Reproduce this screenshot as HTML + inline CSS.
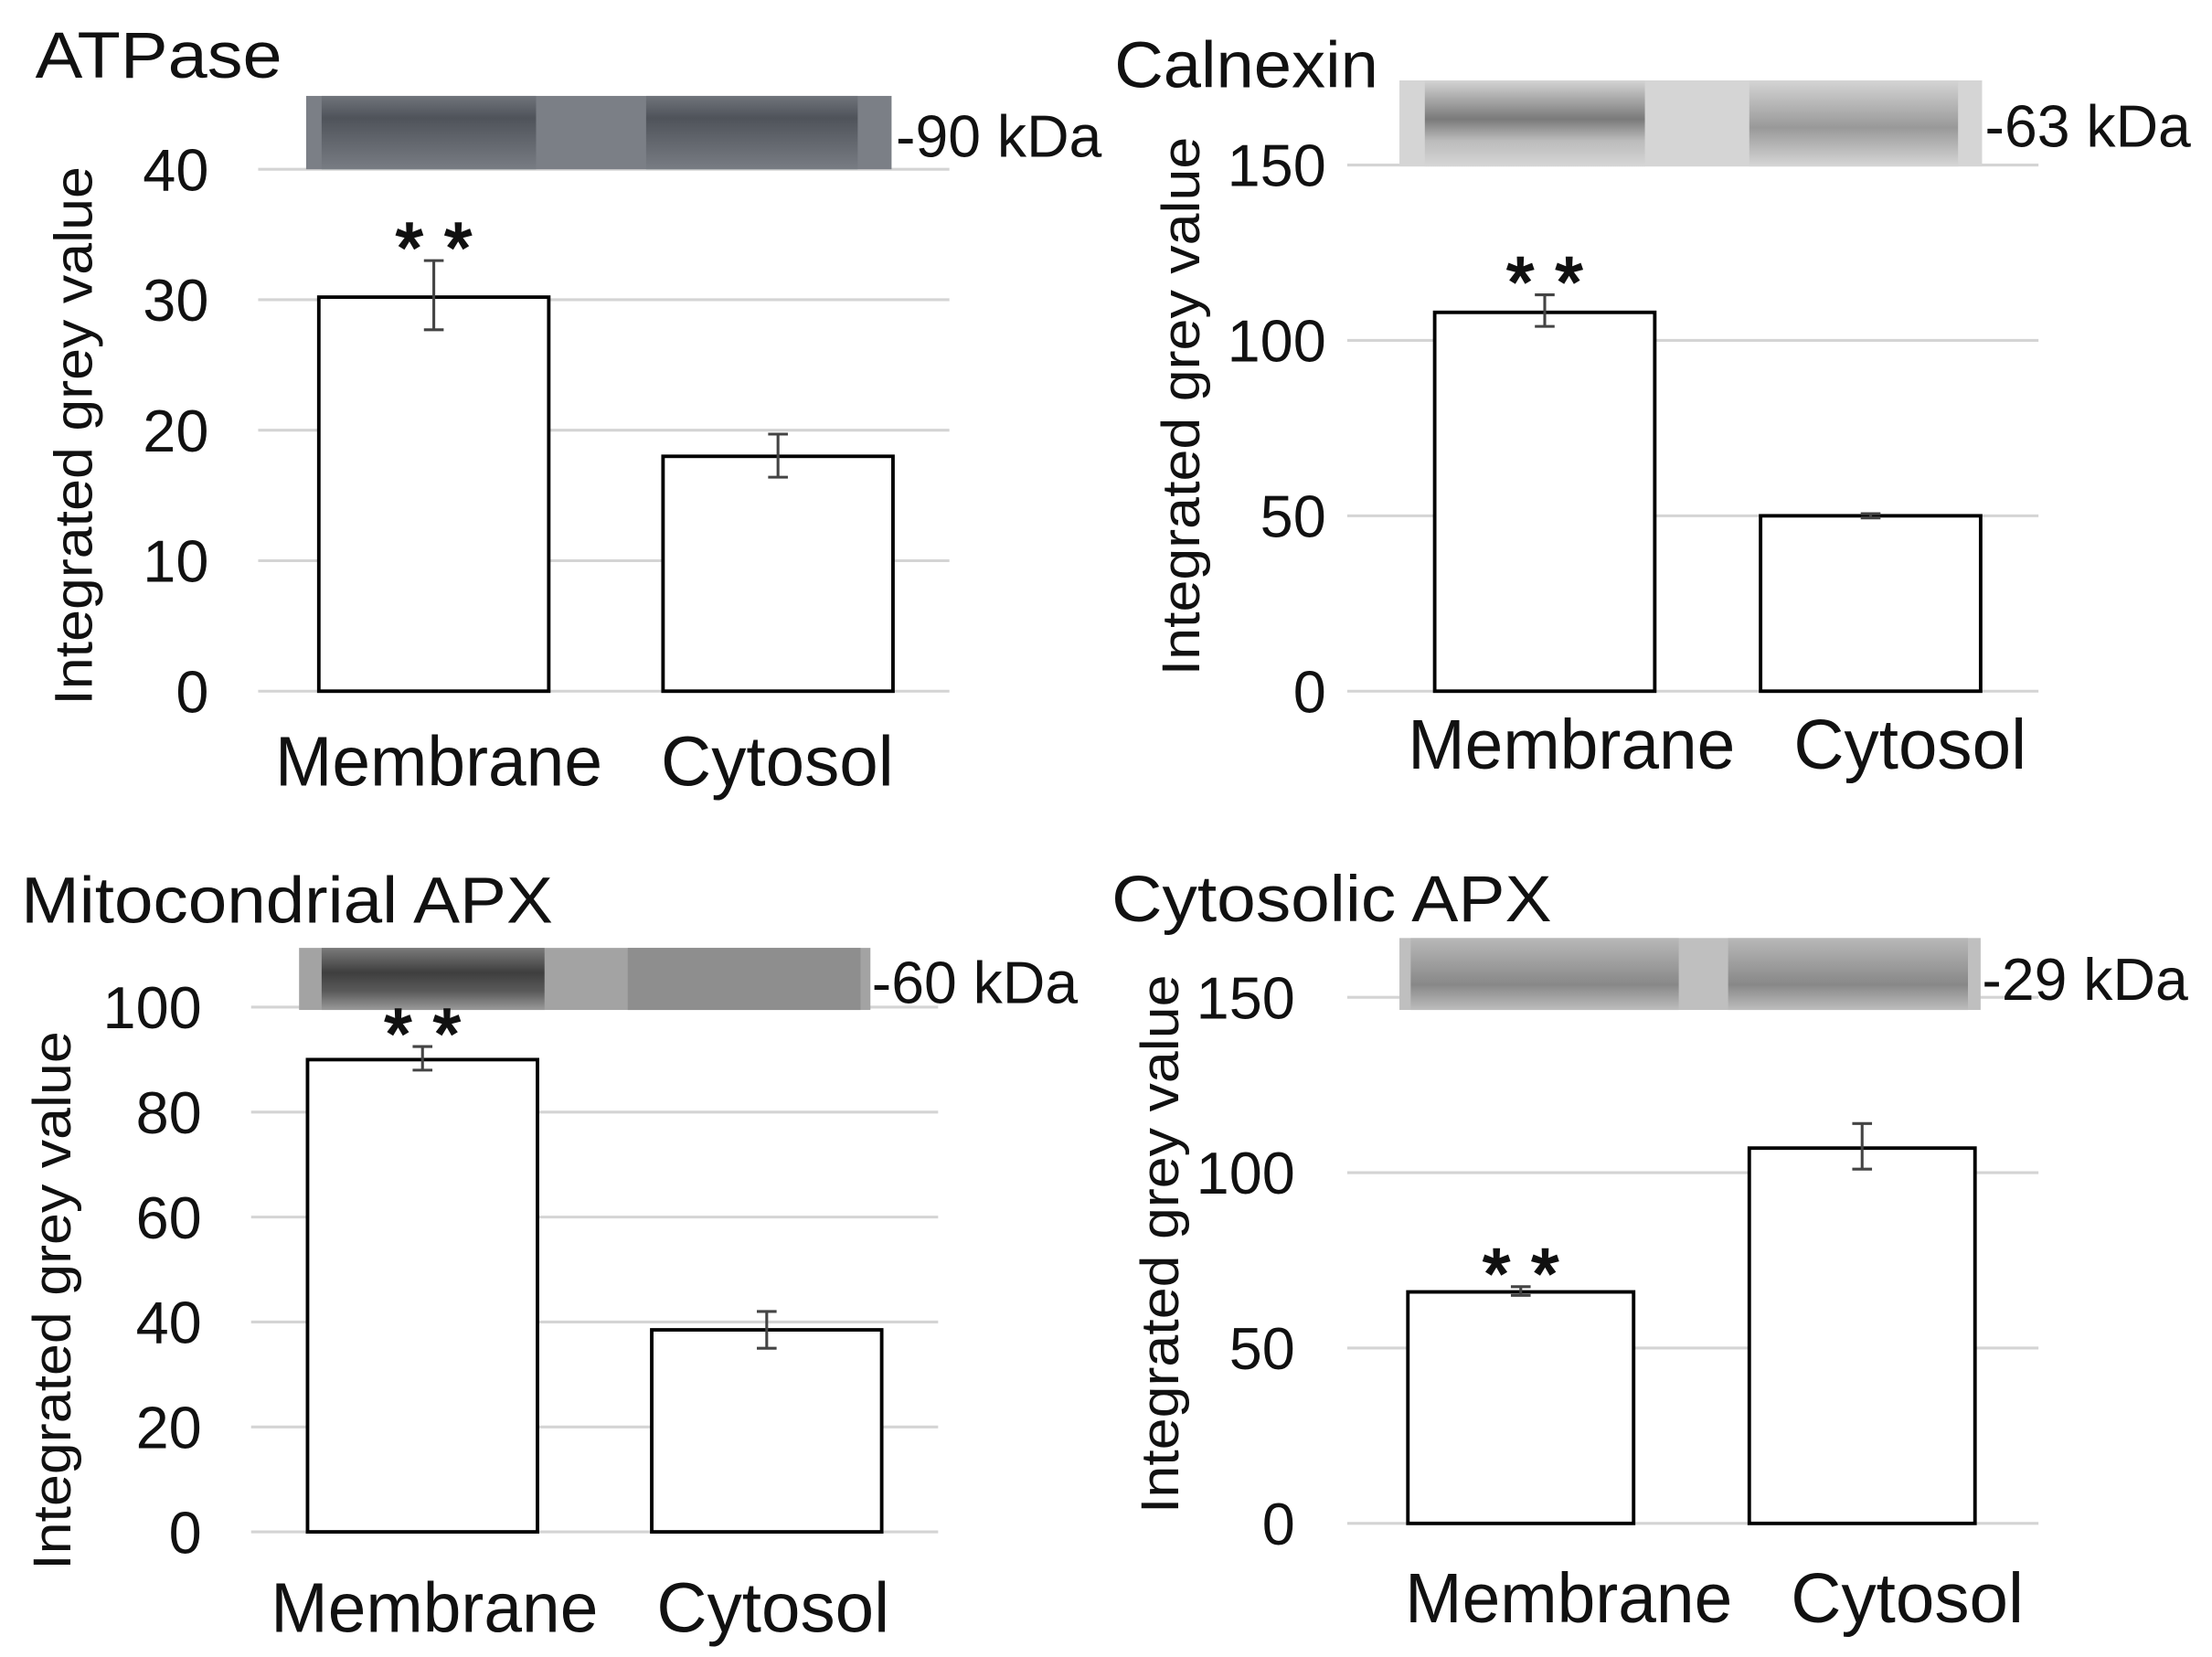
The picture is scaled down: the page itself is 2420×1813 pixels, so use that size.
<!DOCTYPE html>
<html><head><meta charset="utf-8"><style>
html,body{margin:0;padding:0;background:#fff}
svg{display:block}
text{font-family:"Liberation Sans",Arial,sans-serif;fill:#111}
</style></head><body>
<svg id="fig" width="2420" height="1813" viewBox="0 0 1568 1174.7" preserveAspectRatio="none" xmlns="http://www.w3.org/2000/svg">
<defs>
<linearGradient id="gAtp" x1="0" y1="0" x2="0" y2="1">
<stop offset="0" stop-color="#70747b"/><stop offset="0.3" stop-color="#4f535a"/><stop offset="0.55" stop-color="#5e6269"/><stop offset="1" stop-color="#787c83"/></linearGradient>
<linearGradient id="gCal" x1="0" y1="0" x2="0" y2="1">
<stop offset="0" stop-color="#d4d4d4"/><stop offset="0.45" stop-color="#7a7a7a"/><stop offset="0.7" stop-color="#bbb"/><stop offset="1" stop-color="#d6d6d6"/></linearGradient>
<linearGradient id="gCal2" x1="0" y1="0" x2="0" y2="1">
<stop offset="0" stop-color="#d4d4d4"/><stop offset="0.55" stop-color="#999"/><stop offset="1" stop-color="#d6d6d6"/></linearGradient>
<linearGradient id="gMit" x1="0" y1="0" x2="0" y2="1">
<stop offset="0" stop-color="#7a7a7a"/><stop offset="0.4" stop-color="#3e3e3e"/><stop offset="0.7" stop-color="#5a5a5a"/><stop offset="1" stop-color="#9a9a9a"/></linearGradient>
<linearGradient id="gCyt" x1="0" y1="0" x2="0" y2="1">
<stop offset="0" stop-color="#b8b8b8"/><stop offset="0.65" stop-color="#888"/><stop offset="1" stop-color="#bdbdbd"/></linearGradient>
</defs>
<g id="root"></g>
</svg>
<script>
// ATPase panel data
const atpCategories = ["Membrane", "Cytosol"];
const atpValues = [30.2, 18.0];
const atpErrLow = [27.7, 16.4];
const atpErrHigh = [33.0, 19.7];
const atpTicks = [0, 10, 20, 30, 40];
// Calnexin panel data
const calCategories = ["Membrane", "Cytosol"];
const calValues = [108, 50];
const calErrLow = [104, 49.4];
const calErrHigh = [113, 50.6];
const calTicks = [0, 50, 100, 150];
// Mitochondrial APX panel data
const mitCategories = ["Membrane", "Cytosol"];
const mitValues = [90, 38.5];
const mitErrLow = [88, 35];
const mitErrHigh = [92.5, 42];
const mitTicks = [0, 20, 40, 60, 80, 100];
// Cytosolic APX panel data
const cytCategories = ["Membrane", "Cytosol"];
const cytValues = [66, 107];
const cytErrLow = [65, 101];
const cytErrHigh = [67.5, 114];
const cytTicks = [0, 50, 100, 150];

const NS = "http://www.w3.org/2000/svg";
const root = document.getElementById("root");
function mk(tag, attrs, parent, txt){
  const e = document.createElementNS(NS, tag);
  for (const k in attrs) e.setAttribute(k, attrs[k]);
  if (txt !== undefined) e.textContent = txt;
  parent.appendChild(e);
  return e;
}

const panels = [
 {id:"atpase", title:"ATPase", tx:25, ty:55, tl:175, cats:atpCategories, vals:atpValues, lo:atpErrLow, hi:atpErrHigh, ticks:atpTicks,
  gx0:183, gx1:673, yTop:120, yBot:490, max:40, barX:[226,470], barW:163, tickX:148, ylx:55, yly:309,
  blot:{x:217,y:68,w:415,h:52,fill:"#7b7f86",bands:[[228,380,"url(#gAtp)"],[458,608,"url(#gAtp)"]]}, kda:"-90 kDa", kx:635, ky:111, sig:0, labelY:557, labelX:[311,551]},
 {id:"calnexin", title:"Calnexin", tx:790, ty:62, tl:187, cats:calCategories, vals:calValues, lo:calErrLow, hi:calErrHigh, ticks:calTicks,
  gx0:955, gx1:1445, yTop:117, yBot:490, max:150, barX:[1017,1248], barW:156, tickX:940, ylx:840, yly:288,
  blot:{x:992,y:57,w:413,h:61,fill:"#d5d5d5",bands:[[1010,1166,"url(#gCal)"],[1240,1388,"url(#gCal2)"]]}, kda:"-63 kDa", kx:1407, ky:104, sig:0, labelY:545, labelX:[1114,1354]},
 {id:"mito-apx", title:"Mitocondrial APX", tx:15, ty:654, tl:377, cats:mitCategories, vals:mitValues, lo:mitErrLow, hi:mitErrHigh, ticks:mitTicks,
  gx0:178, gx1:665, yTop:714, yBot:1086, max:100, barX:[218,462], barW:163, tickX:143, ylx:40, yly:922,
  blot:{x:212,y:672,w:405,h:44,fill:"#a3a3a3",bands:[[228,386,"url(#gMit)"],[445,610,"#8e8e8e"]]}, kda:"-60 kDa", kx:618, ky:711, sig:0, labelY:1157, labelX:[308,548]},
 {id:"cytosolic-apx", title:"Cytosolic APX", tx:788, ty:653, tl:312, cats:cytCategories, vals:cytValues, lo:cytErrLow, hi:cytErrHigh, ticks:cytTicks,
  gx0:955, gx1:1445, yTop:707, yBot:1080, max:150, barX:[998,1240], barW:160, tickX:918, ylx:825, yly:882,
  blot:{x:992,y:665,w:412,h:51,fill:"#bfbfbf",bands:[[1000,1190,"url(#gCyt)"],[1225,1395,"url(#gCyt)"]]}, kda:"-29 kDa", kx:1405, ky:709, sig:0, labelY:1150, labelX:[1112,1352]}
];

panels.forEach(p => {
  const g = mk("g", {}, root);
  
  
  const y = v => p.yBot - (v / p.max) * (p.yBot - p.yTop);

  const t = mk("text", {x:p.tx, y:p.ty, "font-size":46, textLength:p.tl, lengthAdjust:"spacingAndGlyphs"}, g, p.title);
  
  

  p.ticks.forEach(v => {
    const gl = mk("line", {x1:p.gx0, x2:p.gx1, y1:y(v), y2:y(v), stroke:"#d4d4d4", "stroke-width":2}, g);
    
    
    const tl = mk("text", {x:p.tickX, y:y(v)+15, "font-size":42, "text-anchor":"end", fill:"#333"}, g, String(v));
    
    
  });

  const b = p.blot;
  const br = mk("rect", {x:b.x, y:b.y, width:b.w, height:b.h, fill:b.fill}, g);
  
  
  b.bands.forEach(bd => {
    const r = mk("rect", {x:bd[0], y:b.y, width:bd[1]-bd[0], height:b.h, fill:bd[2]}, g);
    
    
  });
  const kd = mk("text", {x:p.kx, y:p.ky, "font-size":42, textLength:146, lengthAdjust:"spacingAndGlyphs"}, g, p.kda);
  
  

  p.vals.forEach((v, i) => {
    const x = p.barX[i];
    const bar = mk("rect", {x:x, y:y(v), width:p.barW, height:p.yBot - y(v), fill:"#fff", stroke:"#000", "stroke-width":2.5}, g);
    
    
    const cx = x + p.barW/2;
    const eb = mk("path", {d:`M${cx-7},${y(p.hi[i])}H${cx+7}M${cx},${y(p.hi[i])}V${y(p.lo[i])}M${cx-7},${y(p.lo[i])}H${cx+7}`, stroke:"#444", "stroke-width":2, fill:"none"}, g);
    
    
    const len = i === 0 ? 232 : 165;
    const xl = mk("text", {x:p.labelX[i], y:p.labelY, "font-size":50, "text-anchor":"middle", textLength:len, lengthAdjust:"spacingAndGlyphs"}, g, p.cats[i]);
    
    
  });
  const si = p.sig;
  const sx = p.barX[si] + p.barW/2;
  const st = mk("text", {x:sx, y:y(p.hi[si]) + 8, "font-size":50, "text-anchor":"middle", stroke:"#111", "stroke-width":1.6, textLength:54, lengthAdjust:"spacing"}, g, "* *");
  
  

  const cy = p.yly;
  const yl = mk("text", {x:p.ylx, y:cy, "font-size":38, "text-anchor":"middle", fill:"#222", textLength:382, lengthAdjust:"spacingAndGlyphs", transform:`rotate(-90 ${p.ylx} ${cy})`, "dominant-baseline":"middle"}, g, "Integrated  grey value");
  
  
});
</script>
</body></html>
